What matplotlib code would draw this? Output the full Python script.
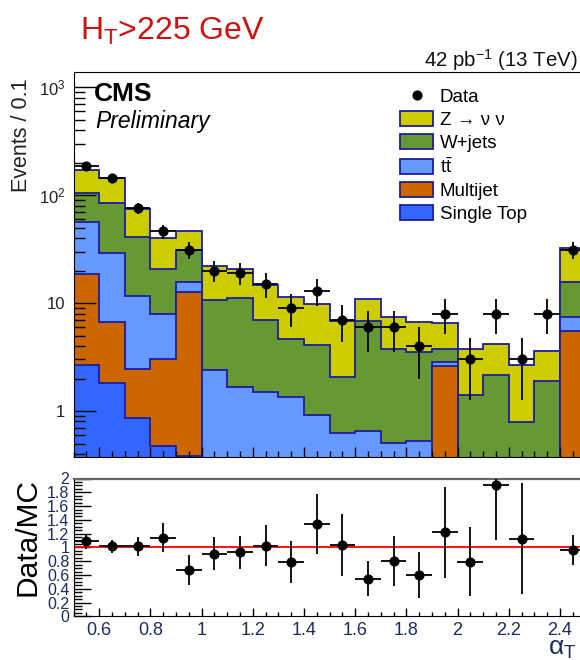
import numpy as np
import matplotlib
matplotlib.use('Agg')
import matplotlib.pyplot as plt
from matplotlib.patches import Patch
from matplotlib.lines import Line2D
from matplotlib.ticker import MultipleLocator, FixedLocator, LogLocator, NullFormatter

plt.rcParams['font.family'] = ['Liberation Sans', 'DejaVu Sans']
plt.rcParams['mathtext.fontset'] = 'custom'
plt.rcParams['mathtext.rm'] = 'Liberation Sans'
plt.rcParams['mathtext.it'] = 'Liberation Sans:italic'
plt.rcParams['mathtext.bf'] = 'Liberation Sans:bold'

# alpha_T bins, width 0.1
edges = np.round(np.arange(0.5, 2.51, 0.1), 2)
centers = 0.5 * (edges[:-1] + edges[1:])

# data counts (42 pb^-1)
data = np.array([186, 145, 76, 46, 31, 20, 19, 15, 9, 13, 7, 6, 6, 4, 8, 3, 8, 3, 8, 31])

# MC components, stacked bottom to top
single_top = [2.67, 1.8, 0.87, 0.47, 0.38, 0, 0, 0, 0, 0, 0, 0, 0, 0, 0, 0, 0, 0, 0, 0]
multijet = [16.0, 4.87, 1.56, 2.53, 12.3, 0, 0, 0, 0, 0, 0, 0, 0, 0, 2.61, 0, 0, 0, 0, 5.54]
ttbar = [37.3, 22.1, 9.07, 4.85, 2.9, 2.4, 1.68, 1.5, 1.35, 0.92, 0.63, 0.65, 0.51, 0.53, 0.23, 0, 0, 0, 0, 1.83]
wjets = [49.0, 56.2, 29.3, 12.65, 15.4, 8.2, 9.52, 5.46, 3.25, 3.14, 1.43, 6.15, 3.27, 2.99, 0.94, 1.41, 2.14, 0.79, 1.9, 8.13]
zinv = [66.0, 58.0, 33.9, 19.9, 15.4, 11.4, 9.3, 7.64, 6.8, 5.64, 4.74, 4.2, 3.68, 3.15, 2.78, 2.37, 2.06, 1.87, 1.7, 16.6]

# uncertainty on data/MC (includes MC stat)
ratio_err = [0.11, 0.095, 0.14, 0.21, 0.22, 0.235, 0.24, 0.30, 0.30, 0.44,
             0.45, 0.25, 0.36, 0.33, 0.66, 0.50, 0.80, 0.80, np.nan, 0.22]

labels = ['Single Top', 'Multijet', r'$\mathrm{t\bar{t}}$', 'W+jets', 'Z → ν ν']
colors = ['#3366ff', '#cc6600', '#6699ff', '#669933', '#cccc00']
outline = '#1c1ca0'

stack = np.cumsum(np.vstack([single_top, multijet, ttbar, wjets, zinv]), axis=0)
total = stack[-1]

fig = plt.figure(figsize=(5.8, 6.6), dpi=100)
W, H = 580.0, 660.0
x0, x1 = 73.5 / W, 585.5 / W
ax = fig.add_axes([x0, 1 - 457 / H, x1 - x0, (457 - 72) / H])
ax2 = fig.add_axes([x0, 1 - 616.3 / H, x1 - x0, (616.3 - 478.5) / H])

# stacked histograms, drawn from the largest cumulative down
floor = 1e-3
for k in reversed(range(len(colors))):
    ax.stairs(np.maximum(stack[k], floor), edges, baseline=floor, fill=True,
              facecolor=colors[k], edgecolor=outline, lw=1.3)

ax.errorbar(centers, data, xerr=0.05, yerr=np.sqrt(data), fmt='o', color='black',
            ms=6.3, lw=1.3, capsize=0, zorder=5)

ax.set_yscale('log')
ax.set_xlim(0.5, 2.5)
ax.set_ylim(0.375, 1380)
ax.yaxis.set_major_locator(FixedLocator([1, 10, 100, 1000]))
ax.set_yticklabels(['1', '10', '$10^{2}$', '$10^{3}$'])
ax.yaxis.set_minor_locator(LogLocator(base=10, subs=np.arange(2, 10)))
ax.yaxis.set_minor_formatter(NullFormatter())
ax.xaxis.set_major_locator(MultipleLocator(0.2))
ax.xaxis.set_minor_locator(MultipleLocator(0.05))
ax.tick_params(axis='x', which='both', direction='in', labelbottom=False, top=False)
ax.tick_params(axis='x', which='major', length=7, width=1)
ax.tick_params(axis='x', which='minor', length=4, width=1)
ax.tick_params(axis='y', which='both', direction='in', right=False, labelsize=12,
               labelcolor='#222222', pad=6)
ax.tick_params(axis='y', which='major', length=16, width=1)
ax.tick_params(axis='y', which='minor', length=8, width=1)

handles = [Line2D([], [], marker='o', color='black', ls='none', ms=6.3)]
for k in reversed(range(len(colors))):
    handles.append(Patch(facecolor=colors[k], edgecolor=outline, lw=1.3))
leg_labels = ['Data'] + labels[::-1]
ax.legend(handles, leg_labels, loc='upper left', bbox_to_anchor=(400 / W, 1 - 88 / H),
          bbox_transform=fig.transFigure, frameon=False, fontsize=13.5,
          handlelength=1.76, handleheight=0.85, handletextpad=0.37,
          labelspacing=0.27, borderpad=0, borderaxespad=0)

# ratio panel
ratio = data / total
err = np.array(ratio_err)
keep = (ratio <= 2) & ~np.isnan(err)
ax2.axhline(1, color='red', lw=1.3, zorder=2)
ax2.errorbar(centers[keep], ratio[keep], xerr=0.05, yerr=err[keep], fmt='o',
             color='black', ms=6.3, lw=1.3, capsize=0, zorder=5)
ax2.set_xlim(0.5, 2.5)
ax2.set_ylim(0, 2)
ax2.yaxis.set_minor_locator(MultipleLocator(0.05))
ax2.set_yticks(np.round(np.arange(0, 2.01, 0.2), 1))
ax2.set_yticklabels(['0', '0.2', '0.4', '0.6', '0.8', '1', '1.2', '1.4', '1.6', '1.8', '2'])
ax2.xaxis.set_minor_locator(MultipleLocator(0.05))
ax2.set_xticks([0.6, 0.8, 1.0, 1.2, 1.4, 1.6, 1.8, 2.0, 2.2, 2.4])
ax2.set_xticklabels(['0.6', '0.8', '1', '1.2', '1.4', '1.6', '1.8', '2', '2.2', '2.4'])
ax2.tick_params(axis='both', which='both', direction='in', labelcolor='#1c2c5c',
                top=False, right=False)
ax2.tick_params(axis='y', which='major', length=12, width=1, pad=3, labelsize=11.5)
ax2.tick_params(axis='y', which='minor', length=6, width=1)
ax2.tick_params(axis='x', which='major', length=6, width=1, pad=4, labelsize=13)
ax2.tick_params(axis='x', which='minor', length=3, width=1)
ax2.spines['top'].set_color('#666666')
ax2.spines['top'].set_linewidth(1.6)

# labels and captions
fig.text(80 / W, 1 - 40 / H, r'H$_{\mathrm{T}}$>225 GeV', color='#cc1111', fontsize=23,
         ha='left', va='baseline')
fig.text(578 / W, 1 - 67.3 / H, r'42 pb$^{-1}$ (13 TeV)', fontsize=14.7, ha='right',
         va='baseline', color='#111111')
fig.text(94 / W, 1 - 101 / H, 'CMS', fontsize=19, fontweight='bold', ha='left',
         va='baseline')
fig.text(95 / W, 1 - 128 / H, 'Preliminary', fontsize=16.5, style='italic', ha='left',
         va='baseline')
fig.text(22 / W, 1 - 79 / H, 'Events / 0.1', fontsize=15.5, rotation=90, ha='center',
         va='top', color='#222222')
fig.text(28 / W, 1 - 537 / H, 'Data/MC', fontsize=21.5, rotation=90, ha='center',
         va='center')
fig.text(576 / W, 1 - 655 / H, r'α$_{\mathrm{T}}$', fontsize=19, ha='right',
         va='baseline', color='#1c2c5c')

fig.savefig('out.png', dpi=100)
